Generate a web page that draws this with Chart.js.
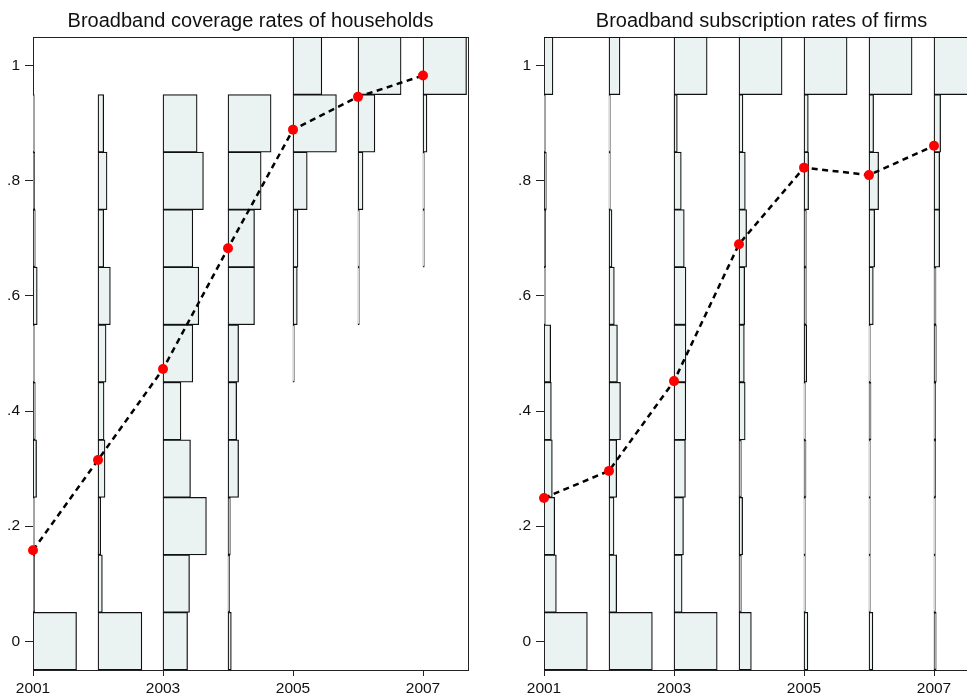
<!DOCTYPE html>
<html>
<head>
<meta charset="utf-8">
<title>Broadband coverage and subscription rates</title>
<script src="https://cdn.jsdelivr.net/npm/chart.js@4"></script>
<style>
  html, body { margin: 0; padding: 0; background: #fff; overflow: hidden; }
  .panel { position: absolute; top: 0; }
  #householdsChart { left: 0; }
  #firmsChart { left: 511px; }
</style>
</head>
<body>
<canvas id="householdsChart" class="panel" width="473" height="698"></canvas>
<canvas id="firmsChart" class="panel" width="473" height="698"></canvas>
<script>
// Years on the x axis and the histogram bins (centers, width 0.1)
const years = [2001, 2002, 2003, 2004, 2005, 2006, 2007];
const binCenters = [0, 0.1, 0.2, 0.3, 0.4, 0.5, 0.6, 0.7, 0.8, 0.9, 1];

// Share per bin (bins 0 .. 1), one row per year
const householdBins = [
  [0.67, 0.025, 0.02, 0.055, 0.035, 0.02, 0.065, 0.035, 0.025, 0.02, 0],
  [0.675, 0.067, 0.041, 0.108, 0.093, 0.124, 0.19, 0.088, 0.139, 0.088, 0],
  [0.378, 0.408, 0.668, 0.423, 0.276, 0.459, 0.551, 0.459, 0.622, 0.525, 0],
  [0.051, 0.026, 0.036, 0.163, 0.133, 0.163, 0.408, 0.408, 0.51, 0.663, 0],
  [0, 0, 0, 0, 0, 0.02, 0.066, 0.077, 0.219, 0.668, 0.444],
  [0, 0, 0, 0, 0, 0, 0.02, 0.02, 0.077, 0.26, 0.663],
  [0, 0, 0, 0, 0, 0, 0, 0.02, 0.02, 0.061, 0.67],
];
const householdMeans = [0.158, 0.315, 0.473, 0.683, 0.889, 0.946, 0.983];

const firmBins = [
  [0.667, 0.19, 0.165, 0.128, 0.113, 0.103, 0.02, 0.026, 0.036, 0.02, 0.138],
  [0.667, 0.118, 0.077, 0.118, 0.177, 0.13, 0.082, 0.046, 0.02, 0.02, 0.169],
  [0.665, 0.125, 0.146, 0.176, 0.182, 0.184, 0.184, 0.158, 0.112, 0.051, 0.51],
  [0.19, 0.036, 0.056, 0.036, 0.095, 0.082, 0.087, 0.117, 0.097, 0.061, 0.663],
  [0.06, 0.02, 0.02, 0.031, 0.02, 0.041, 0.036, 0.036, 0.071, 0.066, 0.663],
  [0.06, 0.02, 0.02, 0.02, 0.031, 0.02, 0.066, 0.087, 0.148, 0.071, 0.663],
  [0.034, 0.02, 0.02, 0.026, 0.026, 0.036, 0.031, 0.087, 0.087, 0.102, 0.663],
];
const firmMeans = [0.249, 0.296, 0.452, 0.69, 0.823, 0.81, 0.861];

// Tick labels
const xTicks = [2001, 2003, 2005, 2007];
const yTicks = [0, 0.2, 0.4, 0.6, 0.8, 1];
const yTickLabels = ["0", ".2", ".4", ".6", ".8", "1"];

Chart.defaults.font.family = '"Liberation Sans", Arial, sans-serif';
Chart.defaults.color = "#111";

// box around the plot region
const framePlugin = {
  id: "frame",
  beforeDatasetsDraw(chart) {
    const { ctx, chartArea } = chart;
    ctx.save();
    ctx.strokeStyle = "#222";
    ctx.lineWidth = 1;
    ctx.strokeRect(
      Math.round(chartArea.left) + 0.5,
      Math.round(chartArea.top) + 0.5,
      Math.round(chartArea.right - chartArea.left),
      Math.round(chartArea.bottom - chartArea.top)
    );
    ctx.restore();
  },
};

function makePanel(canvasId, title, bins, means) {
  const histDatasets = years.map(function (year, j) {
    const points = [];
    binCenters.forEach(function (c, i) {
      if (bins[j][i] > 0) {
        points.push({ y: c, x: [year, year + bins[j][i]] });
      }
    });
    return {
      type: "bar",
      label: String(year),
      data: points,
      indexAxis: "y",
      grouped: false,
      barPercentage: 1,
      categoryPercentage: 1,
      backgroundColor: "#ebf3f2",
      borderColor: "#111",
      borderWidth: 1.25,
      borderSkipped: false,
      clip: 0,
    };
  });

  const meanDataset = {
    type: "line",
    label: "mean",
    data: years.map(function (year, j) {
      return { x: year, y: means[j] };
    }),
    indexAxis: "x",
    borderColor: "#000",
    borderWidth: 2.5,
    borderDash: [6, 4.5],
    tension: 0,
    pointRadius: 5,
    pointBackgroundColor: "#ff0000",
    pointBorderWidth: 0,
    clip: false,
  };

  const chart = new Chart(document.getElementById(canvasId).getContext("2d"), {
    type: "bar",
    data: {
      datasets: [meanDataset].concat(histDatasets),
    },
    options: {
      responsive: false,
      animation: false,
      indexAxis: "y",
      layout: { padding: 0 },
      scales: {
        x: {
          type: "linear",
          min: 2001,
          max: 2007.68,
          offset: false,
          beginAtZero: false,
          afterBuildTicks: function (scale) {
            scale.ticks = xTicks.map(function (v) { return { value: v }; });
          },
          afterFit: function (scale) {
            scale.height = 28;
          },
          grid: {
            drawOnChartArea: false,
            offset: false,
            color: "#222",
            tickLength: 6,
          },
          border: { display: true, color: "#222", width: 1 },
          ticks: {
            maxRotation: 0,
            padding: 3,
            font: { size: 15.5 },
            callback: function (value) { return String(value); },
          },
        },
        y: {
          type: "linear",
          min: -0.05,
          max: 1.05,
          offset: false,
          afterBuildTicks: function (scale) {
            scale.ticks = yTicks.map(function (v) { return { value: v }; });
          },
          afterFit: function (scale) {
            scale.width = 33;
          },
          grid: {
            drawOnChartArea: false,
            offset: false,
            color: "#222",
            tickLength: 8,
          },
          border: { display: true, color: "#222", width: 1 },
          ticks: {
            padding: 5,
            font: { size: 15.5 },
            callback: function (value, index) { return yTickLabels[index]; },
          },
        },
      },
      plugins: {
        legend: { display: false },
        tooltip: { enabled: false },
        title: {
          display: true,
          text: title,
          fullSize: false,
          color: "#111",
          font: { size: 20, weight: "normal" },
          padding: { top: 9, bottom: 4 },
        },
      },
    },
    plugins: [framePlugin],
  });

  // snap the year scale to whole pixels so thin bars stay crisp
  const xOpts = chart.options.scales.x;
  const areaWidth = chart.chartArea.right - chart.chartArea.left;
  const pxPerYear = Math.round(areaWidth / (xOpts.max - xOpts.min));
  xOpts.max = xOpts.min + areaWidth / pxPerYear;
  chart.update();
  return chart;
}

makePanel("householdsChart", "Broadband coverage rates of households", householdBins, householdMeans);
makePanel("firmsChart", "Broadband subscription rates of firms", firmBins, firmMeans);
</script>
</body>
</html>
